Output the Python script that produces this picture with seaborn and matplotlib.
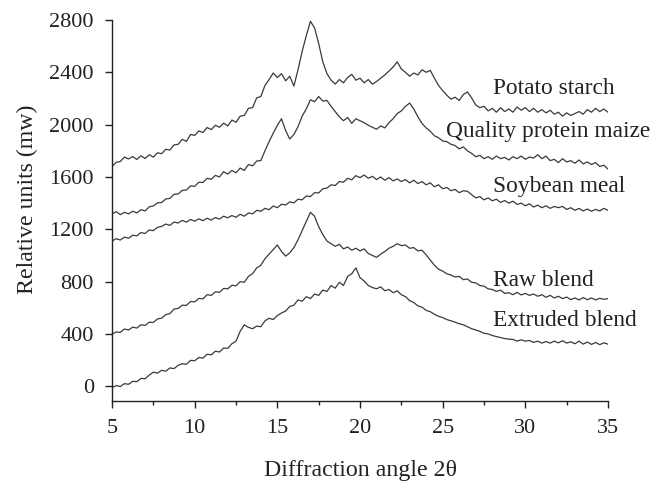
import numpy as np
import pandas as pd
import matplotlib
matplotlib.use('Agg')
import matplotlib.pyplot as plt
from matplotlib.ticker import MultipleLocator
import seaborn as sns

# Diffraction angle grid, 0.25 degree steps from 5 to 35
angle = [5 + 0.25 * i for i in range(121)]

potato_starch = [
    1680, 1712, 1718, 1752, 1738, 1756, 1734, 1762, 1741, 1770, 1752, 1785,
    1778, 1812, 1806, 1845, 1850, 1888, 1872, 1925, 1918, 1952, 1940, 1978,
    1962, 1995, 1980, 2012, 1990, 2035, 2018, 2065, 2070, 2125, 2130, 2205,
    2215, 2300, 2345, 2395, 2360, 2390, 2335, 2370, 2295, 2420, 2560, 2680,
    2790, 2740, 2620, 2480, 2390, 2340, 2310, 2345, 2320, 2360, 2385, 2340,
    2355, 2320, 2345, 2310, 2330, 2355, 2380, 2410, 2440, 2480, 2425, 2400,
    2370, 2395, 2380, 2420, 2400, 2415, 2355, 2300, 2260, 2225, 2195, 2210,
    2185, 2230, 2250, 2205, 2150, 2130, 2140, 2105, 2125, 2095, 2130, 2100,
    2120, 2095, 2135, 2110, 2130, 2100, 2125, 2095, 2115, 2090, 2110, 2080,
    2095, 2065, 2090, 2070, 2085, 2100, 2080, 2115, 2095, 2125, 2100, 2120,
    2095,
]

quality_protein_maize = [
    1318, 1335, 1312, 1330, 1318, 1338, 1325, 1350, 1340, 1372, 1378, 1402,
    1405, 1432, 1436, 1468, 1470, 1498, 1500, 1532, 1528, 1560, 1558, 1590,
    1582, 1612, 1600, 1640, 1622, 1650, 1632, 1668, 1650, 1695, 1685, 1722,
    1725, 1800, 1870, 1935, 1995, 2045, 1955, 1890, 1925, 1985, 2065, 2120,
    2190, 2175, 2215, 2180, 2185, 2140, 2100, 2060, 2030, 2055, 2010, 2045,
    2030, 2015, 1995, 1980, 1965, 1990, 1975, 2015, 2045, 2085, 2105, 2140,
    2165, 2120, 2060, 2010, 1975, 1950, 1915, 1900, 1875, 1870, 1850, 1840,
    1815, 1830, 1800, 1780, 1755, 1765, 1740, 1755, 1735, 1760, 1740, 1750,
    1730, 1755, 1740, 1760, 1735, 1752, 1745, 1770, 1740, 1760, 1725, 1735,
    1710, 1740, 1715, 1725, 1705, 1730, 1700, 1715, 1695, 1710, 1680, 1690,
    1660,
]

soybean_meal = [
    1110, 1128, 1118, 1140, 1132, 1155, 1150, 1175, 1168, 1195, 1190, 1215,
    1222, 1240, 1230, 1255, 1248, 1268, 1255, 1275, 1262, 1280, 1266, 1285,
    1270, 1290, 1278, 1300, 1288, 1305, 1292, 1315, 1300, 1325, 1318, 1345,
    1338, 1360, 1350, 1378, 1365, 1392, 1385, 1410, 1402, 1430, 1425, 1455,
    1450, 1480, 1478, 1510, 1515, 1540, 1535, 1565, 1560, 1590, 1578, 1610,
    1595, 1615, 1590, 1605, 1580, 1600, 1575, 1595, 1570, 1585, 1565, 1580,
    1555, 1575, 1550, 1565, 1540, 1555, 1525, 1540, 1510, 1520, 1495, 1505,
    1480, 1495, 1490, 1465, 1440, 1450, 1425, 1440, 1418, 1430, 1405, 1420,
    1400, 1415, 1390, 1400, 1380, 1395, 1370, 1385, 1365, 1380, 1360, 1375,
    1365, 1375, 1352, 1365, 1345, 1360, 1340, 1355, 1338, 1352, 1340, 1360,
    1345,
]

raw_blend = [
    398, 415, 412, 438, 430, 452, 445, 470, 465, 490, 488, 515,
    520, 548, 555, 590, 595, 620, 618, 648, 645, 672, 668, 700,
    695, 722, 718, 748, 745, 772, 768, 800, 795, 840, 860, 905,
    925, 975, 1010, 1045, 1080, 1030, 995, 1020, 1060, 1120, 1190, 1260,
    1330, 1300, 1220, 1160, 1110, 1090, 1070, 1085, 1050, 1065, 1040, 1055,
    1035, 1050, 1015, 1000, 985, 1010, 1030, 1055, 1070, 1090, 1075, 1080,
    1055, 1060, 1035, 1040, 1005, 965, 925, 895, 880, 860, 850, 835,
    840, 815, 820, 795, 790, 770, 765, 745, 740, 725, 735, 710,
    715, 700, 718, 698, 710, 695, 705, 688, 700, 680, 695, 675,
    688, 670, 682, 662, 675, 660, 678, 662, 675, 660, 672, 665,
    670,
]

extruded_blend = [
    -10, 5, -2, 20, 15, 38, 35, 60, 58, 85, 108, 100,
    122, 115, 140, 135, 160, 172, 168, 198, 195, 220, 215, 245,
    240, 268, 262, 292, 290, 325, 345, 420, 470, 450, 440, 460,
    455, 500, 520, 510, 540, 560, 575, 610, 620, 660, 650, 685,
    670, 705, 695, 735, 725, 770, 750, 795, 770, 840, 860, 905,
    830, 805, 770, 755, 745, 760, 730, 740, 715, 730, 700, 685,
    655, 640, 615, 605, 580, 570, 550, 535, 525, 510, 500, 490,
    478, 470, 455, 440, 430, 420, 405, 400, 388, 380, 372, 365,
    360, 358, 345, 355, 345, 350, 335, 345, 330, 342, 330, 345,
    332, 348, 330, 340, 325, 345, 322, 338, 320, 335, 318, 332,
    322,
]

labels = ['Potato starch', 'Quality protein maize', 'Soybean meal',
          'Raw blend', 'Extruded blend']
label_x = [28.05, 25.2, 28.05, 28.05, 28.05]
label_y = [2280, 1945, 1530, 810, 502]

series = [potato_starch, quality_protein_maize, soybean_meal,
          raw_blend, extruded_blend]

df = pd.concat([
    pd.DataFrame({'angle': angle, 'value': vals, 'sample': name})
    for name, vals in zip(labels, series)
])

sns.set_style('ticks')
plt.rcParams['font.family'] = ['Liberation Serif', 'DejaVu Serif']

fig = plt.figure(figsize=(6.59, 4.88), dpi=100)
ax = fig.add_axes([0.170, 0.179, 0.7526, 0.780])

sns.lineplot(data=df, x='angle', y='value', hue='sample',
             palette=['#3a3a3a'] * 5, linewidth=0.9, legend=False,
             estimator=None, sort=False, ax=ax)

for text, tx, ty in zip(labels, label_x, label_y):
    ax.text(tx, ty, text, ha='left', va='center', fontsize=16.8, color='#222222')

ax.set_xlim(5, 35)
ax.set_ylim(-110, 2800)
ax.xaxis.set_major_locator(MultipleLocator(5))
ax.xaxis.set_minor_locator(MultipleLocator(2.5))
ax.yaxis.set_major_locator(MultipleLocator(400))

ax.tick_params(axis='both', which='major', direction='out', length=5,
               width=1, labelsize=16, color='#222222', labelcolor='#222222')
ax.tick_params(axis='x', which='major', pad=8)
ax.tick_params(axis='x', which='minor', direction='out', length=3, width=1,
               color='#222222')
ax.tick_params(axis='y', which='major', pad=8)

sns.despine(ax=ax)
for side in ['left', 'bottom']:
    ax.spines[side].set_linewidth(1)
    ax.spines[side].set_color('#222222')

ax.set_xlabel('Diffraction angle 2θ', fontsize=17.2, color='#222222', labelpad=16)
ax.set_ylabel('Relative units (mw)', fontsize=17.2, color='#222222')
ax.yaxis.set_label_coords(-0.15, 0.53)

fig.savefig('out.png', dpi=100)
